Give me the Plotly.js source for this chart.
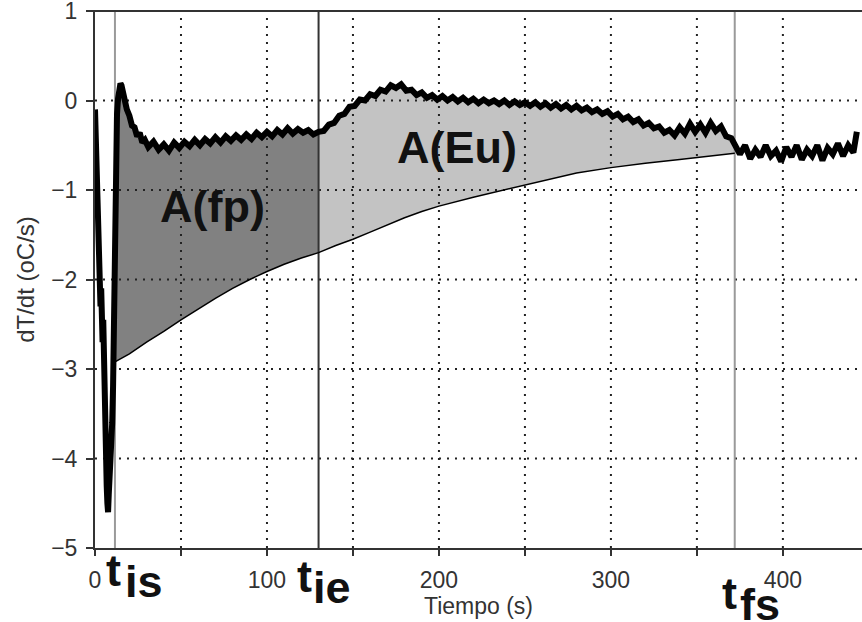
<!DOCTYPE html>
<html>
<head>
<meta charset="utf-8">
<script src="https://cdn.plot.ly/plotly-3.0.1.min.js"></script>
<style>html,body{margin:0;padding:0;background:#fff;}#chart{width:862px;height:622px;}</style>
</head>
<body>
<div id="chart"></div>
<script>
// Measured derivative dT/dt (oC/s) vs time (s)
const time = [0,0.4,0.8,1.2,1.6,2.0,2.4,2.8,3.2,3.6,4.0,4.4,4.8,5.2,5.6,6.0,6.4,6.8,7.2,7.6,8.0,8.4,8.8,9.2,9.6,10.0,10.5,11.0,11.4,11.8,12.2,12.8,13.4,14.0,14.8,15.4,16.0,
  17,18.5,20,21.5,23,24.5,26,27.5,29,31,34,37,40,43,46,49,52,55,58,61,64,67,70,73,76,79,82,85,88,91,94,97,100,103,106,109,112,115,118,121,124,127,130,
  133,136,139,142,145,148,151,154,157,160,163,166,169,172,175,178,181,184,187,190,193,196,199,202,205,208,211,214,217,220,223,226,229,232,235,238,241,244,247,250,
  253,256,259,262,265,268,271,274,277,280,283,286,289,292,295,298,301,304,307,310,313,316,319,322,325,328,331,334,337,340,343,346,349,352,355,358,361,364,367,370,372,
  375,378,381,384,387,390,393,396,399,402,405,408,411,414,417,420,423,426,429,432,435,438,441,443];
const dTdt = [-0.1,-0.45,-0.9,-1.3,-1.5,-1.75,-1.6,-2.05,-2.3,-2.1,-2.55,-2.7,-2.45,-3.0,-3.3,-3.7,-4.05,-4.3,-4.5,-4.6,-4.4,-4.25,-4.0,-4.1,-3.8,-3.6,-3.2,-2.6,-1.6,-0.6,-0.35,-0.15,0.02,0.12,0.19,0.17,0.1,
  0.02,-0.1,-0.17,-0.28,-0.3,-0.4,-0.36,-0.47,-0.44,-0.52,-0.46,-0.55,-0.49,-0.56,-0.47,-0.53,-0.46,-0.51,-0.44,-0.5,-0.43,-0.48,-0.41,-0.47,-0.4,-0.45,-0.39,-0.44,-0.38,-0.43,-0.36,-0.41,-0.35,-0.4,-0.33,-0.38,-0.31,-0.37,-0.32,-0.36,-0.33,-0.38,-0.35,
  -0.34,-0.27,-0.25,-0.17,-0.15,-0.07,-0.06,0.01,0.0,0.07,0.05,0.12,0.1,0.17,0.14,0.18,0.11,0.12,0.06,0.09,0.03,0.06,0.01,0.05,0.0,0.04,-0.01,0.03,-0.02,0.02,-0.03,0.01,-0.03,0.0,-0.04,0.0,-0.05,-0.01,-0.05,-0.02,
  -0.06,-0.02,-0.07,-0.03,-0.08,-0.04,-0.09,-0.05,-0.1,-0.06,-0.11,-0.08,-0.13,-0.1,-0.15,-0.12,-0.18,-0.15,-0.21,-0.18,-0.24,-0.21,-0.28,-0.25,-0.31,-0.29,-0.36,-0.33,-0.39,-0.3,-0.37,-0.26,-0.35,-0.27,-0.36,-0.25,-0.34,-0.29,-0.4,-0.42,-0.5,
  -0.6,-0.5,-0.65,-0.55,-0.63,-0.5,-0.62,-0.56,-0.68,-0.52,-0.63,-0.5,-0.66,-0.55,-0.62,-0.5,-0.67,-0.53,-0.6,-0.48,-0.62,-0.5,-0.58,-0.35];

// Baseline (lower boundary of the areas)
const baseTime = [11.6,20,30,40,50,60,70,80,90,100,110,120,130,140,150,160,170,180,190,200,220,240,260,280,300,320,340,360,372];
const baseVal  = [-2.92,-2.83,-2.70,-2.58,-2.45,-2.33,-2.21,-2.10,-2.00,-1.91,-1.83,-1.76,-1.70,-1.62,-1.55,-1.47,-1.39,-1.31,-1.24,-1.18,-1.08,-0.99,-0.90,-0.81,-0.75,-0.70,-0.66,-0.62,-0.59];

// Marker times
const markerTimes = [11.6, 130, 372];
const markerColors = ['#9a9a9a', '#333333', '#9a9a9a'];

// Axis ticks
const xTickVals = [0,50,100,150,200,250,300,350,400];
const xTickText = ['0','','100','','200','','300','','400'];
const yTickVals = [-5,-4,-3,-2,-1,0,1];
const xGridVals = [50,100,150,200,250,300,350,400];
const yGridVals = [-4,-3,-2,-1,0];

const X0 = 0, X1 = 446, Y0 = -5, Y1 = 1;

function seg(t0, t1, xs, ys){
  const ox=[], oy=[];
  for(let i=0;i<xs.length;i++){ if(xs[i]>=t0 && xs[i]<=t1){ox.push(xs[i]); oy.push(ys[i]);} }
  return {x:ox, y:oy};
}

const traces = [];
const regions = [[markerTimes[0], markerTimes[1], '#818181'], [markerTimes[1], markerTimes[2], '#c3c3c3']];
regions.forEach(r => {
  const b = seg(r[0], r[1], baseTime, baseVal);
  const t = seg(r[0], r[1], time, dTdt);
  traces.push({x:b.x, y:b.y, mode:'lines', line:{width:0, color:'rgba(0,0,0,0)'}, showlegend:false, hoverinfo:'skip'});
  traces.push({x:t.x, y:t.y, mode:'lines', fill:'tonexty', fillcolor:r[2], line:{width:0, color:'rgba(0,0,0,0)'}, showlegend:false, hoverinfo:'skip'});
});

// dotted grid drawn over the filled areas
const gx=[], gy=[];
xGridVals.forEach(v => { gx.push(v, v, null); gy.push(Y0, Y1, null); });
yGridVals.forEach(v => { gx.push(X0, X1, null); gy.push(v, v, null); });
traces.push({x:gx, y:gy, mode:'lines', line:{color:'#222', width:2, dash:'2px,6px'}, showlegend:false, hoverinfo:'skip'});

// marker lines
markerTimes.forEach((m,i) => {
  traces.push({x:[m,m], y:[Y0,Y1], mode:'lines', line:{color:markerColors[i], width:2}, showlegend:false, hoverinfo:'skip'});
});

// baseline
traces.push({x:baseTime, y:baseVal, mode:'lines', line:{color:'#000', width:1.5}, showlegend:false, hoverinfo:'skip'});
// measured signal
traces.push({x:time, y:dTdt, mode:'lines', line:{color:'#000', width:6}, showlegend:false, hoverinfo:'skip'});

const bold = {family:'Liberation Sans, Arial, sans-serif', size:45, color:'#111', weight:'bold'};
function ann(x, y, xref, yref, text){
  return {x:x, y:y, xref:xref, yref:yref, text:text, showarrow:false, font:bold, xanchor:'center', yanchor:'middle'};
}
const annotations = [
  ann(68.6, -1.18, 'x', 'y', '<b>A(fp)</b>'),
  ann(210.5, -0.52, 'x', 'y', '<b>A(Eu)</b>'),
  ann(10.8, -0.041, 'x', 'paper', '<b>t</b>'),
  ann(28.5, -0.063, 'x', 'paper', '<b>is</b>'),
  ann(122, -0.054, 'x', 'paper', '<b>t</b>'),
  ann(138, -0.073, 'x', 'paper', '<b>ie</b>'),
  ann(369, -0.084, 'x', 'paper', '<b>t</b>'),
  ann(386.6, -0.106, 'x', 'paper', '<b>fs</b>')
];

const layout = {
  width:862, height:622,
  margin:{l:95, r:0, t:11, b:74},
  paper_bgcolor:'#fff', plot_bgcolor:'#fff',
  showlegend:false,
  font:{family:'Liberation Sans, Arial, sans-serif', size:23, color:'#333'},
  xaxis:{
    range:[X0, X1], showgrid:false, zeroline:false,
    showline:true, linecolor:'#333', linewidth:2,
    tickmode:'array', tickvals:xTickVals, ticktext:xTickText,
    ticks:'outside', ticklen:6, tickwidth:2, tickcolor:'#333',
    tickfont:{size:23, color:'#333'}, ticklabelstandoff:4,
    title:{text:'Tiempo (s)', font:{size:23, color:'#333'}, standoff:0}
  },
  yaxis:{
    range:[Y0, Y1], showgrid:false, zeroline:false,
    showline:true, linecolor:'#333', linewidth:2,
    tickmode:'array', tickvals:yTickVals,
    ticks:'outside', ticklen:7, tickwidth:2, tickcolor:'#333',
    tickfont:{size:23, color:'#333'}, ticklabelstandoff:4, ticklabeloverflow:'allow',
    title:{text:'dT/dt (oC/s)', font:{size:24, color:'#333'}, standoff:10}
  },
  shapes:[{type:'line', xref:'paper', yref:'paper', x0:-0.01, x1:1, y0:1, y1:1, line:{color:'#333', width:2}}],
  annotations:annotations
};

Plotly.newPlot('chart', traces, layout, {staticPlot:true, displayModeBar:false});
</script>
</body>
</html>
